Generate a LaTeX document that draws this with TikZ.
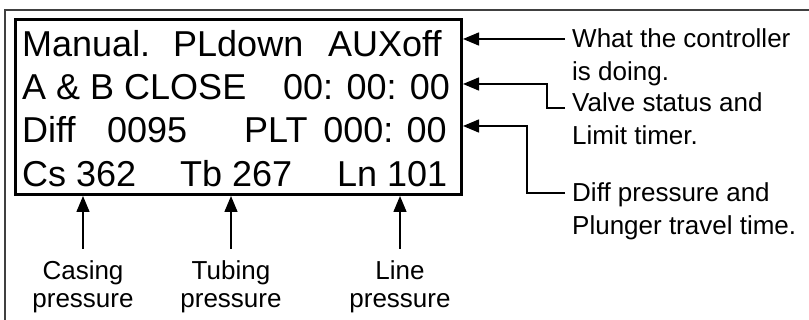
\documentclass[tikz,border=0pt]{standalone}
\usepackage{fontspec}
\setmainfont{Liberation Sans}
\usetikzlibrary{arrows.meta,calc,positioning}

\begin{document}
\begin{tikzpicture}[>={Triangle[length=16pt,width=13pt]}, x=1pt, y=-1pt,
  every node/.style={inner sep=0pt},
  lcdtext/.style={font=\fontsize{36}{40}\selectfont, anchor=base west},
  note/.style={font=\fontsize{26}{33}\selectfont, align=left, anchor=base west},
  pointer/.style={->, line width=1.5pt}]
  \useasboundingbox (0,0) rectangle (809,320);
  \draw[line width=1.2pt, black!75] (809,10) -- (5,10) -- (5,320);
  % display
  \node[draw, line width=3pt, minimum width=446pt, minimum height=175pt,
    anchor=north west] (lcd) at (14,18) {};
  \node[lcdtext] (mode) at (22,57) {Manual.};
  \node[lcdtext] (plunger) at (173,57) {PLdown};
  \node[lcdtext] (aux) at (328,57) {AUXoff};
  \node[lcdtext] (valves) at (22,100) {A \& B CLOSE};
  \node[lcdtext] (limit) at (283,100) {00: 00: 00};
  \node[lcdtext] (diff) at (22,143) {Diff};
  \node[lcdtext] (diffval) at (107,143) {0095};
  \node[lcdtext] (plt) at (244,143) {PLT};
  \node[lcdtext, anchor=base east] (pltval) at (447,143) {000: 00};
  \node[lcdtext] (cs) at (22,187) {Cs 362};
  \node[lcdtext] (tb) at (180,187) {Tb 267};
  \node[lcdtext] (ln) at (337,187) {Ln 101};
  % notes on the right (base = last line)
  \node[note] (doing) at (572,81) {What the controller\\is doing.};
  \node[note] (status) at (572,145) {Valve status and\\Limit timer.};
  \node[note] (travel) at (572,235) {Diff pressure and\\Plunger travel time.};
  \coordinate (d0) at (565,39);
  \draw[pointer] (d0) -- (d0 -| lcd.east);
  \coordinate (s0) at (565,108);
  \coordinate (s1) at (547,84);
  \draw[pointer] (s0) -| (s1) -- (s1 -| lcd.east);
  \coordinate (t0) at (565,193);
  \coordinate (t1) at (527,126);
  \draw[pointer] (t0) -| (t1) -- (t1 -| lcd.east);
  % pressures below
  \foreach \n/\x/\t in {cas/83/Casing, tub/231/Tubing, lin/400/Line} {
    \node[font=\fontsize{26}{28}\selectfont, align=center, anchor=base]
      (\n) at (\x,308) {\t\\pressure};
    \draw[pointer, shorten <=12pt] (\n.north) -- (\n.north |- lcd.south);
  }
\end{tikzpicture}
\end{document}
